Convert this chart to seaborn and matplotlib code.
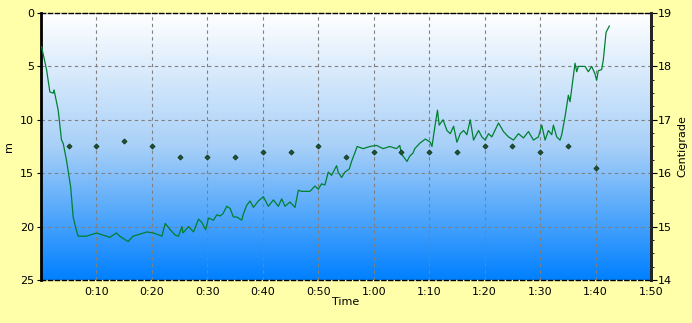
import numpy as np
import pandas as pd
import matplotlib
matplotlib.use("Agg")
import matplotlib.pyplot as plt
import seaborn as sns
from matplotlib.ticker import MultipleLocator
from matplotlib.colors import LinearSegmentedColormap

# ---- data ----
depth_time = [0.1, 1.0, 1.6, 2.2, 2.35, 3.1, 3.7, 4.0, 4.6, 5.35, 5.8, 6.3, 6.7, 8.2, 10.0, 10.6,
              12.4, 13.6, 14.2, 15.7, 16.6, 19.1, 20.3, 21.8, 22.4, 23.3, 24.2, 24.8, 25.4, 25.6,
              26.6, 27.5, 28.4, 29.0, 29.7, 30.2, 31.1, 31.7, 32.3, 32.8, 33.5, 34.1, 34.7, 35.3,
              35.9, 36.2, 36.5, 37.1, 37.7, 38.3, 39.2, 40.1, 41.0, 41.9, 42.8, 43.4, 44.0, 44.9,
              45.8, 46.4, 47.0, 48.5, 49.4, 50.0, 50.6, 51.2, 51.8, 52.4, 53.3, 53.6, 54.2, 54.8,
              55.6, 56.0, 56.6, 57.0, 58.1, 59.3, 60.5, 61.7, 62.9, 64.1, 64.7, 65.0, 66.0, 66.5,
              67.1, 67.4, 68.3, 69.3, 70.2, 70.5, 71.1, 71.5, 71.8, 72.5, 73.2, 73.8, 74.4, 75.0,
              75.6, 76.2, 76.8, 77.4, 78.0, 78.9, 79.5, 80.1, 80.7, 81.3, 82.5, 83.4, 84.3, 85.2,
              86.1, 87.0, 87.9, 88.8, 89.7, 90.3, 90.9, 91.5, 92.1, 92.4, 93.0, 93.6, 93.9, 94.5,
              95.1, 95.4, 96.3, 96.6, 96.9, 97.5, 98.1, 98.7, 99.3, 99.9, 100.2, 100.5, 101.1,
              101.4, 101.9, 102.5]
depth_m = [3.15, 5.3, 7.4, 7.5, 7.2, 9.1, 11.9, 12.2, 13.8, 16.3, 19.1, 20.2, 20.9, 20.9, 20.6, 20.7,
           21.0, 20.6, 20.9, 21.4, 20.9, 20.5, 20.6, 20.9, 19.7, 20.3, 20.8, 20.9, 20.0, 20.6,
           20.0, 20.5, 19.3, 19.6, 20.3, 19.2, 19.4, 18.9, 19.0, 18.8, 18.1, 18.3, 19.1, 19.1,
           19.3, 19.4, 18.8, 18.0, 17.6, 18.2, 17.6, 17.2, 18.1, 17.5, 18.1, 17.4, 18.1, 17.7,
           18.2, 16.6, 16.7, 16.7, 16.2, 16.5, 16.0, 16.1, 14.9, 15.2, 14.3, 14.9, 15.4, 14.9,
           14.6, 13.9, 13.1, 12.5, 12.7, 12.5, 12.4, 12.7, 12.5, 12.7, 12.4, 13.2, 13.9, 13.4,
           13.1, 12.7, 12.2, 11.8, 12.1, 12.5, 10.4, 9.1, 10.5, 10.0, 11.0, 11.3, 10.6, 12.1,
           11.3, 11.0, 11.4, 10.0, 11.9, 11.0, 11.6, 11.9, 11.3, 11.6, 10.3, 11.1, 11.6, 11.9,
           11.3, 11.7, 11.1, 11.9, 11.6, 10.5, 11.9, 11.0, 11.4, 10.5, 11.6, 11.9, 11.4, 9.7,
           7.7, 8.3, 4.7, 5.5, 5.0, 5.0, 5.0, 5.5, 5.0, 5.7, 6.3, 5.4, 5.3,
           4.4, 1.8, 1.2]

temp_time = [5, 10, 15, 20, 25, 30, 35, 40, 45, 50, 55, 60, 65, 70, 75, 80, 85, 90, 95, 100]
temp_c = [16.5, 16.5, 16.6, 16.5, 16.3, 16.3, 16.3, 16.4, 16.4, 16.5, 16.3, 16.4, 16.4, 16.4,
          16.4, 16.5, 16.5, 16.4, 16.5, 16.1]

x_ticks = [0, 10, 20, 30, 40, 50, 60, 70, 80, 90, 100, 110]
x_labels = ["", "0:10", "0:20", "0:30", "0:40", "0:50", "1:00", "1:10", "1:20", "1:30", "1:40", "1:50"]
depth_ticks = [0, 5, 10, 15, 20, 25]
temp_ticks = [14, 15, 16, 17, 18, 19]

depth_df = pd.DataFrame({"Time": depth_time, "Depth": depth_m})
temp_df = pd.DataFrame({"Time": temp_time, "Temp": temp_c})

# ---- figure ----
sns.set_style("white")
plt.rcParams["font.family"] = ["DejaVu Sans"]
plt.rcParams["text.color"] = "black"
plt.rcParams["axes.labelcolor"] = "black"
plt.rcParams["xtick.color"] = "black"
plt.rcParams["ytick.color"] = "black"
fig = plt.figure(figsize=(6.92, 3.23), dpi=100, facecolor="#FFFFAA")
ax = fig.add_axes([41/692, 1-280/323, 610/692, 267/323])

# gradient background
grad = np.linspace(0, 1, 256).reshape(-1, 1)
cmap = LinearSegmentedColormap.from_list("bg", ["#FFFFFF", "#A8D0F8", "#0080FF"])
ax.imshow(grad, aspect="auto", cmap=cmap, extent=[0, 110, 25, 0], zorder=0, interpolation="bicubic")

sns.lineplot(data=depth_df, x="Time", y="Depth", ax=ax, color="#008030", lw=0.9, zorder=3)
ax.set_xlim(0, 110)
ax.set_ylim(25, 0)

ax.set_xticks(x_ticks)
ax.set_xticklabels(x_labels)
ax.set_yticks(depth_ticks)
ax.xaxis.set_minor_locator(MultipleLocator(2))
ax.grid(True, which="major", color="#808080", linestyle=(0, (3, 3)), lw=0.8)
for gl in ax.get_xgridlines() + ax.get_ygridlines():
    gl.set_zorder(1)
ax.tick_params(axis="both", which="major", labelsize=8, length=3, pad=2)
ax.tick_params(axis="x", which="minor", length=2, color="#555555")
ax.set_xlabel("Time", fontsize=8, labelpad=0)
ax.set_ylabel("m", fontsize=8, labelpad=4)

for s in ["left", "right"]:
    ax.spines[s].set_linewidth(2)
    ax.spines[s].set_color("black")
for s in ["top", "bottom"]:
    ax.spines[s].set_linewidth(1)
    ax.spines[s].set_linestyle((0, (3, 2)))
    ax.spines[s].set_color("black")

ax2 = ax.twinx()
sns.scatterplot(data=temp_df, x="Time", y="Temp", ax=ax2, marker="D", s=7, color="#1F5030",
                edgecolor="#103018", linewidth=0.5, zorder=4)
ax2.set_ylim(14, 19)
ax2.set_yticks(temp_ticks)
ax2.yaxis.set_minor_locator(MultipleLocator(0.25))
ax2.tick_params(axis="y", which="major", labelsize=8, length=4, pad=1)
ax2.tick_params(axis="y", which="minor", length=2)
ax2.set_ylabel("Centigrade", fontsize=8, labelpad=4)
ax2.set_xlim(0, 110)
ax2.set_xlabel("")
for s in ax2.spines.values():
    s.set_visible(False)
ax2.spines["right"].set_visible(True)
ax2.spines["right"].set_linewidth(2)

fig.savefig("out.png", dpi=100, facecolor=fig.get_facecolor())
